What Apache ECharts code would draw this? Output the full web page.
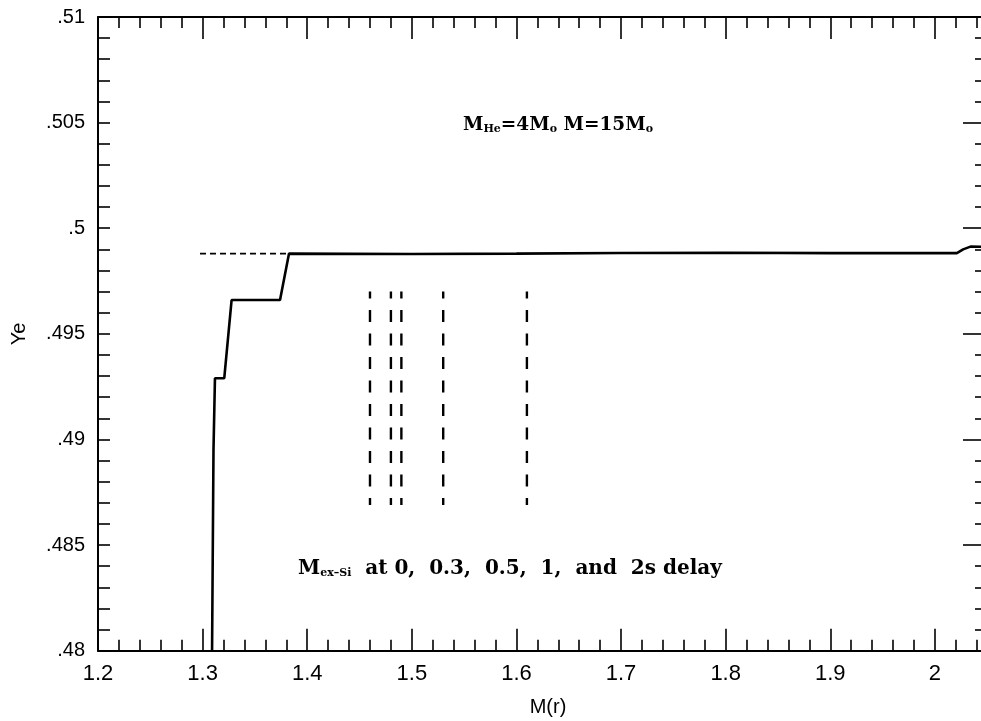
<!DOCTYPE html>
<html>
<head>
<meta charset="utf-8">
<script src="https://cdn.jsdelivr.net/npm/echarts@6/dist/echarts.min.js"></script>
<style>html,body{margin:0;padding:0;background:#fff;}#c{width:981px;height:721px;}</style>
</head>
<body>
<div id="c"></div>
<script>
// ---- data ----
const xTicks = [1.2, 1.3, 1.4, 1.5, 1.6, 1.7, 1.8, 1.9, 2.0];
const xTickLabels = ['1.2', '1.3', '1.4', '1.5', '1.6', '1.7', '1.8', '1.9', '2'];
const yTicks = [0.48, 0.485, 0.49, 0.495, 0.5, 0.505, 0.51];
const yTickLabels = ['.48', '.485', '.49', '.495', '.5', '.505', '.51'];

// Ye profile (solid)
const profileM  = [1.3089, 1.3104, 1.3118, 1.3207, 1.3277, 1.3740, 1.3826, 1.50,   1.60,   1.70,   1.80,   1.90,   2.021,  2.027,  2.034,  2.06];
const profileYe = [0.4790, 0.4895, 0.4929, 0.4929, 0.4966, 0.4966, 0.4988, 0.49878, 0.49880, 0.49883, 0.49884, 0.49882, 0.49882, 0.49900, 0.49913, 0.49912];

// short dashed reference line
const refM  = [1.2975, 1.3826];
const refYe = [0.4988, 0.4988];

// M_ex-Si at 0, 0.3, 0.5, 1, 2 s delay (vertical dashed markers)
const delayM = [1.46, 1.48, 1.49, 1.53, 1.61];
const delayYeTop = 0.4970;
const delayYeBottom = 0.4869;

// ---- chart ----
const pairs = (xs, ys) => xs.map((x, i) => [x, ys[i]]);
const lookup = (v, ticks, labels) => {
  for (let i = 0; i < ticks.length; i++) if (Math.abs(v - ticks[i]) < 1e-9) return labels[i];
  return '';
};

const sansFont = '"Liberation Sans", Arial, Helvetica, sans-serif';
const serifFont = '"DejaVu Serif", "Liberation Serif", serif';

const chart = echarts.init(document.getElementById('c'), null, {renderer: 'canvas'});

const axisLine = {show: true, onZero: false, lineStyle: {color: '#000', width: 2}};

const series = [
  {
    type: 'line', xAxisIndex: 0, yAxisIndex: 0, symbol: 'none', clip: true,
    data: pairs(profileM, profileYe),
    lineStyle: {color: '#000', width: 2.6}, z: 5
  },
  {
    type: 'line', xAxisIndex: 0, yAxisIndex: 0, symbol: 'none', clip: true,
    data: pairs(refM, refYe),
    lineStyle: {color: '#000', width: 1.8, type: [6, 4]}, z: 4
  }
].concat(delayM.map(m => ({
  type: 'line', xAxisIndex: 0, yAxisIndex: 0, symbol: 'none', clip: true,
  data: [[m, delayYeTop], [m, delayYeBottom]],
  lineStyle: {color: '#000', width: 2.4, type: [12, 11.5], dashOffset: 5}
})));

const option = {
  backgroundColor: '#fff',
  animation: false,
  grid: {left: 98, right: -58.5, top: 17, bottom: 70.3, containLabel: false, outerBoundsMode: 'none'},
  xAxis: [
    {
      type: 'value', position: 'bottom', min: 1.2, max: 2.1, interval: 0.1,
      axisLine: axisLine,
      axisTick: {show: true, inside: true, length: 22, lineStyle: {color: '#000', width: 1.6}},
      minorTick: {show: true, splitNumber: 5, length: 11, lineStyle: {color: '#000', width: 1.6}},
      splitLine: {show: false}, minorSplitLine: {show: false},
      axisLabel: {
        show: true, margin: 12, color: '#000', fontSize: 22, fontFamily: sansFont,
        formatter: v => lookup(v, xTicks, xTickLabels)
      }
    },
    {
      type: 'value', position: 'top', min: 1.2, max: 2.1, interval: 0.1,
      axisLine: axisLine,
      axisTick: {show: true, inside: true, length: 22, lineStyle: {color: '#000', width: 1.6}},
      minorTick: {show: true, splitNumber: 5, length: 11, lineStyle: {color: '#000', width: 1.6}},
      splitLine: {show: false}, minorSplitLine: {show: false},
      axisLabel: {show: false}
    }
  ],
  yAxis: [
    {
      type: 'value', position: 'left', min: 0.48, max: 0.51, interval: 0.005,
      axisLine: axisLine,
      axisTick: {show: true, inside: true, length: 12, lineStyle: {color: '#000', width: 1.6}},
      minorTick: {show: true, splitNumber: 5, length: 12, lineStyle: {color: '#000', width: 1.6}},
      splitLine: {show: false}, minorSplitLine: {show: false},
      axisLabel: {
        show: true, margin: 13, color: '#000', fontSize: 20, fontFamily: sansFont,
        formatter: v => lookup(v, yTicks, yTickLabels)
      },
      name: 'Ye', nameLocation: 'middle', nameGap: 69, nameRotate: 90,
      nameTextStyle: {color: '#000', fontSize: 20, fontFamily: sansFont}
    },
    {
      type: 'value', position: 'right', offset: -52.5, min: 0.48, max: 0.51, interval: 0.005,
      axisLine: axisLine,
      axisTick: {show: true, inside: true, length: 24, lineStyle: {color: '#000', width: 1.6}},
      minorTick: {show: true, splitNumber: 5, length: 12, lineStyle: {color: '#000', width: 1.6}},
      splitLine: {show: false}, minorSplitLine: {show: false},
      axisLabel: {show: false}
    }
  ],
  graphic: [
    {
      type: 'text', x: 548, y: 707, z: 10,
      style: {
        text: 'M(r)', fill: '#000', align: 'center', verticalAlign: 'middle',
        font: '20px ' + sansFont
      }
    },
    {
      type: 'text', x: 463, y: 123, z: 10,
      style: {
        text: '{m|M}{s|He}{m|=4M}{s|o}{m| M=15M}{s|o}',
        verticalAlign: 'middle', fill: '#000',
        rich: {
          m: {fontFamily: serifFont, fontWeight: 'bold', fontSize: 18.5, lineHeight: 24, verticalAlign: 'bottom', fill: '#000'},
          s: {fontFamily: serifFont, fontWeight: 'bold', fontSize: 11, lineHeight: 12, verticalAlign: 'bottom', fill: '#000'}
        }
      }
    },
    {
      type: 'text', x: 298, y: 567, z: 10,
      style: {
        text: '{m|M}{s|ex\u2013Si}{m|  at 0,  0.3,  0.5,  1,  and  2s delay}',
        verticalAlign: 'middle', fill: '#000',
        rich: {
          m: {fontFamily: serifFont, fontWeight: 'bold', fontSize: 20, lineHeight: 24, verticalAlign: 'bottom', fill: '#000'},
          s: {fontFamily: serifFont, fontWeight: 'bold', fontSize: 11, lineHeight: 12, verticalAlign: 'bottom', fill: '#000'}
        }
      }
    }
  ],
  series: series
};

chart.setOption(option);
</script>
</body>
</html>
